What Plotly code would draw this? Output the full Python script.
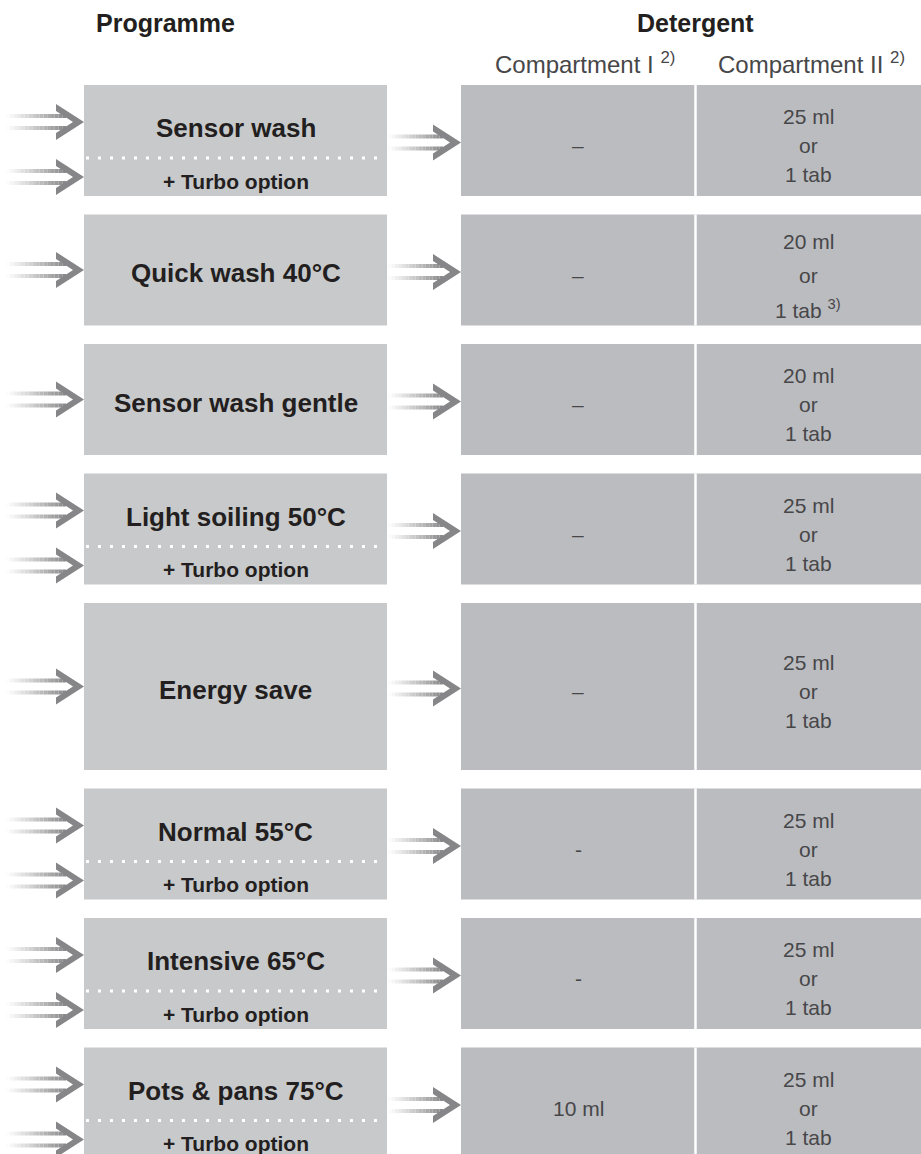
import plotly.graph_objects as go

# --- table content -------------------------------------------------------
PROGRAMMES = [
    "Sensor wash",
    "Quick wash 40°C",
    "Sensor wash gentle",
    "Light soiling 50°C",
    "Energy save",
    "Normal 55°C",
    "Intensive 65°C",
    "Pots & pans 75°C",
]
HAS_TURBO = [True, False, False, True, False, True, True, True]
TURBO_LABEL = "+ Turbo option"

COMPARTMENT_I = ["–", "–", "–", "–", "–", "-", "-", "10 ml"]
COMPARTMENT_II = [
    ["25 ml", "or", "1 tab"],
    ["20 ml", "or", "1 tab <sup>3)</sup>"],
    ["20 ml", "or", "1 tab"],
    ["25 ml", "or", "1 tab"],
    ["25 ml", "or", "1 tab"],
    ["25 ml", "or", "1 tab"],
    ["25 ml", "or", "1 tab"],
    ["25 ml", "or", "1 tab"],
]

HEADERS = ["Programme", "Detergent"]
SUBHEADERS = ["Compartment I <sup>2)</sup>", "Compartment II <sup>2)</sup>"]

# --- layout (pixel space) ------------------------------------------------
W, H = 921, 1154
PROG_X0, PROG_X1 = 84, 387
DET_X0, DET_SPLIT, DET_X1 = 461, 695.5, 921
TOP0 = 85
ROW_HEIGHTS = [111, 111, 111, 111, 167, 111, 111, 111]
GAP = 18.5

PROG_FILL = "#c8c9cb"
DET_FILL = "#bbbcc0"
GREY = (134, 134, 136)
INK = "#231f20"
SOFT_INK = "#474749"
FONT = "Liberation Sans, Arial, Helvetica, sans-serif"

N_GRAD = 16

tops = []
y = TOP0
for h in ROW_HEIGHTS:
    tops.append(y)
    y += h + GAP

fig = go.Figure()
shapes = []
annotations = []
shaft_segments = [([], []) for _ in range(N_GRAD)]


def txt(x, y, text, size, color=INK, bold=False):
    annotations.append(dict(
        x=x, y=y, xref="x", yref="y", text=f"<b>{text}</b>" if bold else text,
        showarrow=False, xanchor="center", yanchor="middle",
        font=dict(family=FONT, size=size, color=color),
    ))


def arrow(x_start, x_tip, cy):
    """Double-line arrow (⇒) fading in from white."""
    shaft_end = x_tip - 18
    step = (shaft_end - x_start) / N_GRAD
    for k in range(N_GRAD):
        xa = x_start + k * step
        xb = xa + step
        for dy in (-6, 6):
            xs, ys = shaft_segments[k]
            xs += [xa, xb, None]
            ys += [cy + dy, cy + dy, None]
    g = "rgb(%d,%d,%d)" % GREY
    path = (f"M {x_tip-28},{cy-18} L {x_tip},{cy} L {x_tip-28},{cy+18} "
            f"L {x_tip-28},{cy+11} L {x_tip-11},{cy} L {x_tip-28},{cy-11} Z")
    shapes.append(dict(type="path", path=path, xref="x", yref="y",
                       fillcolor=g, line=dict(width=0), layer="above"))


# headers
txt(165, 23, HEADERS[0], 25, bold=True)
txt(695, 23, HEADERS[1], 25, bold=True)
txt(585, 63, SUBHEADERS[0], 24, color=SOFT_INK)
txt(811, 63, SUBHEADERS[1], 24, color=SOFT_INK)

for i, name in enumerate(PROGRAMMES):
    top, h = tops[i], ROW_HEIGHTS[i]
    bot = top + h
    mid = top + h / 2
    cx = (PROG_X0 + PROG_X1) / 2

    shapes.append(dict(type="rect", xref="x", yref="y", x0=PROG_X0, x1=PROG_X1,
                       y0=top, y1=bot, fillcolor=PROG_FILL, line=dict(width=0),
                       layer="below"))
    shapes.append(dict(type="rect", xref="x", yref="y", x0=DET_X0, x1=DET_X1,
                       y0=top, y1=bot, fillcolor=DET_FILL, line=dict(width=0),
                       layer="below"))
    shapes.append(dict(type="line", xref="x", yref="y", x0=DET_SPLIT, x1=DET_SPLIT,
                       y0=top, y1=bot, line=dict(color="white", width=2.5),
                       layer="below"))

    if HAS_TURBO[i]:
        txt(cx, top + 43, name, 26, bold=True)
        txt(cx, top + 96, TURBO_LABEL, 21, bold=True)
        shapes.append(dict(type="line", xref="x", yref="y", x0=PROG_X0 + 2,
                           x1=PROG_X1 - 4, y0=top + 73, y1=top + 73,
                           line=dict(color="white", width=3, dash="3px,9px")))
        arrow(6, PROG_X0, top + 37)
        arrow(6, PROG_X0, top + 92)
    else:
        txt(cx, mid + 3, name, 26, bold=True)
        arrow(6, PROG_X0, mid)

    arrow(PROG_X1 + 1, DET_X0, mid + 2)

    # detergent cells
    txt((DET_X0 + DET_SPLIT) / 2, mid + 5, COMPARTMENT_I[i], 21, color=SOFT_INK)
    lines = COMPARTMENT_II[i]
    stp = 34 if "<sup>" in lines[-1] else 29
    c2 = (DET_SPLIT + DET_X1) / 2
    for j, line in enumerate(lines):
        txt(c2, mid + 5 + (j - 1) * stp, line, 21, color=SOFT_INK)

# gradient shafts, one trace per shade
for k, (xs, ys) in enumerate(shaft_segments):
    t = ((k + 0.5) / N_GRAD) ** 1.1
    r, g, b = (round(255 + (c - 255) * t) for c in GREY)
    fig.add_trace(go.Scatter(
        x=xs, y=ys, mode="lines", line=dict(color=f"rgb({r},{g},{b})", width=4),
        hoverinfo="skip", showlegend=False,
    ))

fig.update_layout(
    width=W, height=H,
    margin=dict(l=0, r=0, t=0, b=0),
    xaxis=dict(range=[0, W], visible=False, fixedrange=True),
    yaxis=dict(range=[H, 0], visible=False, fixedrange=True),
    plot_bgcolor="white",
    paper_bgcolor="white",
    shapes=shapes,
    annotations=annotations,
    showlegend=False,
)

fig.write_html("out.html", config={"displayModeBar": False},
               post_script="document.body.style.margin='0';")
